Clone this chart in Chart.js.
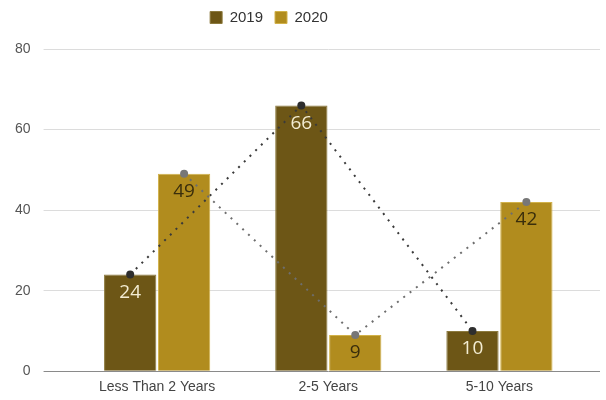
<!DOCTYPE html>
<html>
<head>
<meta charset="utf-8">
<script src="https://cdn.jsdelivr.net/npm/chart.js@4"></script>
<style>
  html, body { margin: 0; padding: 0; background: #fff; }
  #wrap { width: 606px; height: 400px; }
</style>
</head>
<body>
<div id="wrap"><canvas id="chart"></canvas></div>
<script>
// Data
const categories = ["Less Than 2 Years", "2-5 Years", "5-10 Years"];
const values2019 = [24, 66, 10];
const values2020 = [49, 9, 42];
const yTicks = [0, 20, 40, 60, 80];

const gridColor = ctx => (ctx.tick && ctx.tick.value === 0 ? "#8a8a8a" : "#dcdcdc");

// Move line points onto the centre of the matching bar
const alignLines = {
  id: "alignLines",
  afterDatasetsUpdate(chart) {
    const pairs = [[2, 0], [3, 1]];
    pairs.forEach(([lineIdx, barIdx]) => {
      const lineMeta = chart.getDatasetMeta(lineIdx);
      const barMeta = chart.getDatasetMeta(barIdx);
      lineMeta.data.forEach((pt, i) => {
        pt.x = barMeta.data[i].x;
      });
    });
  }
};

// Value labels inside the top of each bar
const barLabels = {
  id: "barLabels",
  afterDatasetsDraw(chart) {
    const ctx = chart.ctx;
    ctx.save();
    ctx.font = "19px 'Open Sans'";
    ctx.textAlign = "center";
    ctx.textBaseline = "middle";
    [0, 1].forEach(di => {
      const ds = chart.data.datasets[di];
      chart.getDatasetMeta(di).data.forEach((bar, i) => {
        ctx.fillStyle = di === 0 ? "#f3ecd2" : "#3a2e0c";
        ctx.fillText(ds.data[i], bar.x, bar.y + 18);
      });
    });
    ctx.restore();
  }
};

// Extra room below the legend, and legend sits a bit left of centre
const legendSpace = {
  id: "legendSpace",
  beforeInit(chart) {
    const origFit = chart.legend.fit;
    chart.legend.fit = function () {
      origFit.bind(chart.legend)();
      this.height += 14;
    };
  },
  afterLayout(chart) {
    chart.legend.left -= 32;
    chart.legend.right -= 32;
  }
};

new Chart(document.getElementById("chart"), {
  data: {
    labels: categories,
    datasets: [
      {
        type: "bar",
        label: "2019",
        data: values2019,
        backgroundColor: "#6d5616",
        borderColor: "#8c7a3e",
        borderWidth: 1,
        order: 2
      },
      {
        type: "bar",
        label: "2020",
        data: values2020,
        backgroundColor: "#b18c1e",
        borderColor: "#d2b24a",
        borderWidth: 1,
        order: 2
      },
      {
        type: "line",
        label: "2019 trend",
        data: values2019,
        borderColor: "#3a3a3a",
        borderWidth: 2,
        borderDash: [2, 6],
        pointRadius: 4,
        pointBackgroundColor: "#2e2e2e",
        pointBorderWidth: 0,
        tension: 0,
        order: 0
      },
      {
        type: "line",
        label: "2020 trend",
        data: values2020,
        borderColor: "#6e6e6e",
        borderWidth: 2,
        borderDash: [2, 6],
        pointRadius: 4,
        pointBackgroundColor: "#777777",
        pointBorderWidth: 0,
        tension: 0,
        order: 0
      }
    ]
  },
  options: {
    responsive: true,
    maintainAspectRatio: false,
    animation: false,
    layout: { padding: { left: 2, right: 6, top: -2, bottom: -4 } },
    datasets: {
      bar: { categoryPercentage: 0.63, barPercentage: 0.97 }
    },
    scales: {
      x: {
        grid: { display: false, drawTicks: false },
        border: { display: false },
        ticks: {
          padding: 8,
          color: "#444",
          font: { family: "'Liberation Sans', Arial", size: 14 }
        }
      },
      y: {
        min: 0,
        max: 80,
        afterBuildTicks: axis => { axis.ticks = yTicks.map(v => ({ value: v })); },
        grid: { color: gridColor, tickLength: 28, lineWidth: 1 },
        border: { display: false },
        ticks: {
          padding: 13,
          color: "#555",
          font: { family: "'Liberation Sans', Arial", size: 14 }
        }
      },
      yRight: {
        position: "right",
        min: 0,
        max: 80,
        afterBuildTicks: axis => { axis.ticks = yTicks.map(v => ({ value: v })); },
        grid: { color: gridColor, tickLength: 15, drawOnChartArea: false },
        border: { display: false },
        ticks: { display: false }
      }
    },
    plugins: {
      legend: {
        position: "top",
        labels: {
          filter: item => item.datasetIndex < 2,
          boxWidth: 12,
          boxHeight: 12,
          padding: 12,
          color: "#333",
          font: { family: "'Liberation Sans', Arial", size: 15 }
        }
      },
      tooltip: { enabled: false }
    }
  },
  plugins: [alignLines, barLabels, legendSpace]
});
</script>
</body>
</html>
